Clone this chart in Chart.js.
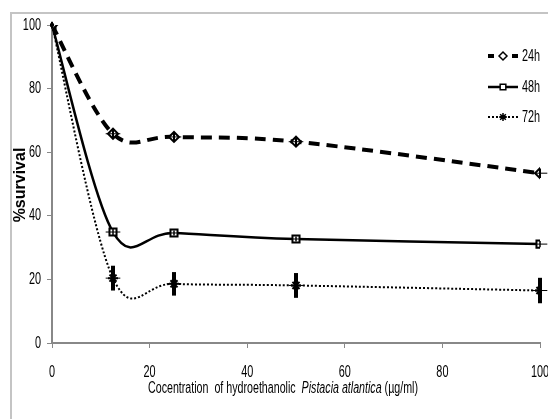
<!DOCTYPE html>
<html>
<head>
<meta charset="utf-8">
<script src="https://cdn.jsdelivr.net/npm/chart.js@4.4.1/dist/chart.umd.min.js"></script>
<style>
  html, body { margin: 0; padding: 0; background: #fff; }
  #wrap { position: relative; width: 548px; height: 419px; }
</style>
</head>
<body>
<div id="wrap"><canvas id="grafico"></canvas></div>
<script>
// concentracoes (ug/ml) e % de sobrevivencia
const concentracoes = [0, 12.5, 25, 50, 100];
const series = ['24h', '48h', '72h'];
const sobrev24 = [100, 65.8, 64.8, 63.3, 53.4];
const sobrev48 = [100, 34.9, 34.6, 32.7, 31.1];
const sobrev72 = [100, 20.4, 18.6, 18.1, 16.5];
const erro24 = [1, 1.5, 1.5, 1.5, 1.5];
const erro48 = [0.5, 1, 0.8, 0.8, 1];
const erro72 = [0.5, 3.9, 3.7, 3.9, 4];
const erroX = [0, 1.5, 1.5, 1.5, 1.5];
const ticksX = [0, 20, 40, 60, 80, 100];
const ticksY = [0, 20, 40, 60, 80, 100];

const FONTE = "'Liberation Sans', Arial, sans-serif";
const ESTREITO = 0.64; // fonte condensada

function pontos(vals) {
  return concentracoes.map((c, i) => ({x: c, y: vals[i]}));
}

// texto condensado horizontalmente
function textoEstreito(ctx, txt, x, y, align, font) {
  ctx.save();
  ctx.font = font;
  ctx.textBaseline = 'middle';
  ctx.textAlign = align;
  ctx.translate(x, y);
  ctx.scale(ESTREITO, 1);
  ctx.fillText(txt, 0, 0);
  ctx.restore();
}

// linha suavizada estilo Excel, passando pelos pontos calculados pelo Chart.js
function curvaSuave(ctx, pts) {
  ctx.beginPath();
  ctx.moveTo(pts[0].x, pts[0].y);
  for (let i = 0; i < pts.length - 1; i++) {
    const p0 = pts[Math.max(i - 1, 0)];
    const p1 = pts[i];
    const p2 = pts[i + 1];
    const p3 = pts[Math.min(i + 2, pts.length - 1)];
    ctx.bezierCurveTo(
      p1.x + (p2.x - p0.x) / 6, p1.y + (p2.y - p0.y) / 6,
      p2.x - (p3.x - p1.x) / 6, p2.y - (p3.y - p1.y) / 6,
      p2.x, p2.y);
  }
  ctx.stroke();
}

const extras = {
  id: 'extras',
  beforeDraw(chart) {
    const ctx = chart.ctx;
    ctx.save();
    ctx.strokeStyle = '#c4c4c4';
    ctx.lineWidth = 2;
    ctx.beginPath();
    ctx.moveTo(11, 419);
    ctx.lineTo(11, 13);
    ctx.lineTo(548, 13);
    ctx.stroke();
    ctx.restore();
  },
  beforeDatasetsDraw(chart) {
    const ctx = chart.ctx;
    ctx.save();
    chart.data.datasets.forEach((ds, d) => {
      const pts = chart.getDatasetMeta(d).data.map(el => ({x: el.x, y: el.y}));
      ctx.strokeStyle = '#000';
      ctx.lineWidth = ds.borderWidth;
      ctx.setLineDash(ds.borderDash || []);
      curvaSuave(ctx, pts);
    });
    ctx.restore();
  },
  afterDatasetsDraw(chart) {
    const ctx = chart.ctx;
    const xs = chart.scales.x, ys = chart.scales.y;
    const erros = [erro24, erro48, erro72];
    const larg = [2, 1.5, 4];
    ctx.save();
    ctx.strokeStyle = '#000';
    chart.data.datasets.forEach((ds, d) => {
      ds.data.forEach((p, i) => {
        const px = xs.getPixelForValue(p.x);
        ctx.lineWidth = larg[d];
        ctx.beginPath();
        ctx.moveTo(px, ys.getPixelForValue(p.y - erros[d][i]));
        ctx.lineTo(px, ys.getPixelForValue(p.y + erros[d][i]));
        ctx.stroke();
        if (erroX[i] > 0) {
          const py = ys.getPixelForValue(p.y);
          ctx.lineWidth = 1;
          ctx.beginPath();
          ctx.moveTo(xs.getPixelForValue(p.x - erroX[i]), py);
          ctx.lineTo(Math.min(xs.getPixelForValue(p.x + erroX[i]), 548), py);
          ctx.stroke();
        }
      });
    });
    ctx.restore();
  },
  afterDraw(chart) {
    const ctx = chart.ctx;
    const area = chart.chartArea;
    const xs = chart.scales.x, ys = chart.scales.y;
    ctx.fillStyle = '#000';

    // rotulos dos ticks (condensados)
    ys.ticks.forEach(t => {
      textoEstreito(ctx, String(t.value), 41, ys.getPixelForValue(t.value), 'right', "17px " + FONTE);
    });
    xs.ticks.forEach(t => {
      textoEstreito(ctx, String(t.value), xs.getPixelForValue(t.value), 372, 'center', "17px " + FONTE);
    });

    // titulo eixo y
    ctx.save();
    ctx.font = "bold 16px " + FONTE;
    ctx.translate(21, (area.top + area.bottom) / 2 + 1);
    ctx.rotate(-Math.PI / 2);
    ctx.textAlign = 'center';
    ctx.textBaseline = 'middle';
    ctx.fillText('%survival', 0, 0);
    ctx.restore();

    // titulo eixo x, com nome da especie em italico
    ctx.save();
    ctx.textBaseline = 'middle';
    const partes = [
      ['Cocentration  of hydroethanolic  ', "16px " + FONTE],
      ['Pistacia atlantica', "italic 16px " + FONTE],
      [' (\u00b5g/ml)', "16px " + FONTE]
    ];
    let total = 0;
    partes.forEach(p => { ctx.font = p[1]; total += ctx.measureText(p[0]).width; });
    ctx.translate(148, 389);
    ctx.scale(270 / total, 1);
    let x = 0;
    partes.forEach(p => {
      ctx.font = p[1];
      ctx.fillText(p[0], x, 0);
      x += ctx.measureText(p[0]).width;
    });
    ctx.restore();

    // legenda
    ctx.save();
    const linhas = [56, 87, 117];
    const dashLeg = [[6, 6], [], [2, 2]];
    chart.data.datasets.forEach((ds, d) => {
      const y = linhas[d];
      ctx.strokeStyle = '#000';
      ctx.lineWidth = ds.borderWidth;
      ctx.setLineDash(dashLeg[d]);
      ctx.beginPath();
      ctx.moveTo(488, y);
      ctx.lineTo(518, y);
      ctx.stroke();
      ctx.setLineDash([]);
      ctx.lineWidth = 1.5;
      ctx.fillStyle = ds.pointBackgroundColor;
      Chart.helpers.drawPoint(ctx, {
        pointStyle: ds.pointStyle, radius: 4, borderWidth: 1.5, rotation: 0
      }, 503, y);
      ctx.fillStyle = '#000';
      textoEstreito(ctx, series[d], 522, y, 'left', "17px " + FONTE);
    });
    ctx.restore();
  }
};

const ctxGrafico = document.getElementById('grafico').getContext('2d');
const grafico = new Chart(ctxGrafico, {
  type: 'line',
  data: {
    datasets: [{
      label: series[0],
      data: pontos(sobrev24),
      showLine: false,
      borderColor: '#000',
      borderWidth: 4,
      borderDash: [11, 7],
      pointStyle: 'rectRot',
      pointRadius: 5,
      pointBorderWidth: 2,
      pointBackgroundColor: '#fff',
      pointBorderColor: '#000'
    }, {
      label: series[1],
      data: pontos(sobrev48),
      showLine: false,
      borderColor: '#000',
      borderWidth: 2.5,
      pointStyle: 'rect',
      pointRadius: 5,
      pointBorderWidth: 2,
      pointBackgroundColor: '#fff',
      pointBorderColor: '#000'
    }, {
      label: series[2],
      data: pontos(sobrev72),
      showLine: false,
      borderColor: '#000',
      borderWidth: 2,
      borderDash: [2, 2],
      pointStyle: 'star',
      pointRadius: 5,
      pointBorderWidth: 2,
      pointBackgroundColor: '#000',
      pointBorderColor: '#000'
    }]
  },
  options: {
    responsive: true,
    maintainAspectRatio: false,
    animation: false,
    layout: { padding: { left: 0, right: 8, top: 25, bottom: 0 } },
    plugins: {
      legend: { display: false },
      tooltip: { enabled: false }
    },
    scales: {
      x: {
        type: 'linear',
        min: 0,
        max: 100,
        afterBuildTicks(scale) { scale.ticks = ticksX.map(v => ({value: v})); },
        afterFit(scale) {
          scale.height = 76;
          scale.paddingLeft = 0;
          scale.paddingRight = 0;
        },
        grid: { drawOnChartArea: false, drawTicks: true, tickLength: 5, color: '#888', lineWidth: 1 },
        border: { display: true, color: '#888', width: 2 },
        ticks: { display: false }
      },
      y: {
        min: 0,
        max: 100,
        afterBuildTicks(scale) { scale.ticks = ticksY.map(v => ({value: v})); },
        afterFit(scale) {
          scale.width = 52;
          scale.paddingTop = 0;
          scale.paddingBottom = 0;
        },
        grid: { drawOnChartArea: false, drawTicks: true, tickLength: 5, color: '#888', lineWidth: 1 },
        border: { display: true, color: '#888', width: 2 },
        ticks: { display: false }
      }
    }
  },
  plugins: [extras]
});
</script>
</body>
</html>
